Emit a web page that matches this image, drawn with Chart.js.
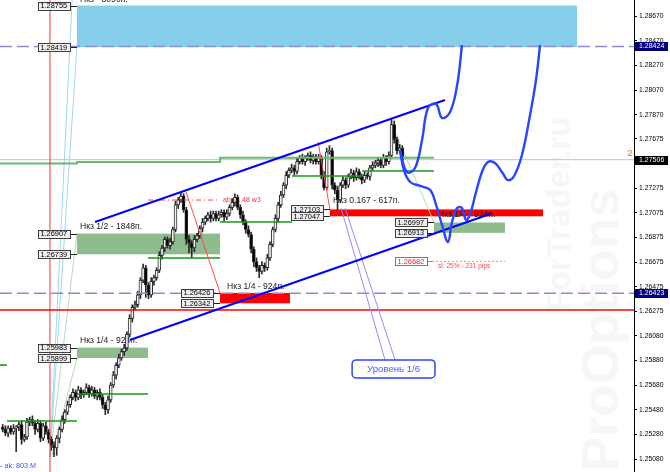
<!DOCTYPE html>
<html><head><meta charset="utf-8">
<script src="https://cdn.jsdelivr.net/npm/chart.js@4"></script>
<style>html,body{margin:0;padding:0;background:#fff;overflow:hidden}</style>
</head><body>
<canvas id="c" width="670" height="472"></canvas>
<script>
// ---------- data ----------
const PIP = 0.0001;
const BAR_MIN = -1, BAR_MAX = 233.8;
const Y_MIN = 1.24975, Y_MAX = 1.28800;
const yTicks = [1.28670,1.28470,1.28270,1.28070,1.27870,1.27675,1.27475,1.27275,1.27075,1.26875,1.26675,1.26475,1.26275,1.26080,1.25880,1.25680,1.25480,1.25280,1.25080];

const firstOpen = 1.2534;
const closes = [
1.2532,1.2529,1.2533,1.2530,1.2533,1.2534,1.2536,1.2524,1.2526,1.2538,
1.2540,1.2537,1.2532,1.2537,1.2525,1.2535,1.2530,1.2524,1.2519,1.2517,
1.2525,1.2532,1.2540,1.2546,1.2552,1.2558,1.2562,1.2558,1.2564,1.2560,
1.2562,1.2566,1.2561,1.2564,1.2559,1.2562,1.2558,1.2552,1.2548,1.2556,
1.2568,1.2576,1.2584,1.2590,1.2595,1.2598,1.2609,1.2622,1.2631,1.2633,
1.2641,1.2653,1.2663,1.2649,1.2641,1.2652,1.2655,1.2661,1.2673,1.2679,
1.2686,1.2681,1.2684,1.2694,1.2714,1.2718,1.2721,1.2710,1.2686,1.2683,
1.2679,1.2686,1.2689,1.2695,1.2700,1.2703,1.2706,1.2703,1.2707,1.2703,
1.2706,1.2708,1.2704,1.2707,1.2712,1.2716,1.2720,1.2712,1.2706,1.2700,
1.2694,1.2690,1.2678,1.2668,1.2663,1.2660,1.2665,1.2663,1.2671,1.2682,
1.2694,1.2703,1.2714,1.2722,1.2730,1.2738,1.2742,1.2744,1.2741,1.2749,
1.2752,1.2749,1.2752,1.2754,1.2750,1.2753,1.2749,1.2752,1.2738,1.2728,
1.2757,1.2758,1.2730,1.2726,1.2718,1.2730,1.2734,1.2730,1.2737,1.2740,
1.2736,1.2741,1.2737,1.2734,1.2738,1.2737,1.2744,1.2746,1.2748,1.2750,
1.2746,1.2752,1.2749,1.2754,1.2779,1.2767,1.2758,1.2760,1.27506];
// wick lengths in pips
const wickUp = [
2,3,2,2,3,1,2,3,2,3, 2,3,2,3,2,2,3,2,2,3, 2,2,3,2,3,2,3,2,3,2, 2,3,2,3,2,2,3,2,2,3,
2,3,2,3,2,3,2,3,2,3, 3,2,3,2,2,3,2,2,3,2, 2,2,3,2,3,2,3,2,2,3, 2,3,2,2,3,2,2,3,2,2,
3,2,2,3,2,3,3,2,2,3, 2,3,2,2,3,2,3,2,3,2, 2,3,2,3,2,3,2,3,2,3, 2,3,2,2,3,2,2,3,2,3,
3,4,2,2,3,2,3,2,2,3, 2,3,2,2,3,2,2,3,2,2, 2,3,2,3,4,3,2,3,2];
const wickDn = [
2,2,3,2,2,19,3,4,2,2, 3,2,4,2,3,2,2,3,4,7, 6,4,2,3,2,2,2,3,2,3, 2,2,3,2,2,3,2,3,4,3,
2,2,3,2,2,3,2,2,3,2, 2,3,2,10,3,2,3,2,2,3, 3,2,3,2,2,3,2,2,4,8, 8,3,2,2,3,2,2,3,2,2,
2,2,3,2,2,2,3,2,3,2, 3,2,3,4,3,5,2,3,2,2, 2,2,3,2,2,3,2,2,3,2, 2,2,3,2,2,3,2,2,3,2,
2,2,3,3,8,2,2,3,2,2, 3,2,2,3,2,2,3,2,2,3, 2,2,3,2,2,3,3,2,3];

// horizontal / vertical levels
const levelGray = 1.27506;
const levelDashed = [1.28424, 1.26423];
const levelRed = 1.26288;
const vLineBar = 17.5;

// zones: [bar from, bar to, price top, price bottom, kind]
const zones = [
  [27.5, 212.7, 1.28755, 1.28419, 'sky'],
  [27.5, 80.5, 1.26907, 1.26739, 'green'],
  [27.5, 53.8, 1.25983, 1.25899, 'green'],
  [80.5, 106.4, 1.26426, 1.26342, 'red'],
  [121.2, 200.1, 1.27103, 1.27047, 'red'],
  [159.7, 186.0, 1.26997, 1.26913, 'green']
];
// zone texts: [text, bar, price]
const zoneLabels = [
  ['Нкз - 3090п.', 28.6, 1.28800],
  ['Нкз 1/2 - 1848п.', 28.6, 1.26960],
  ['Нкз 1/4 - 924п.', 28.6, 1.26037],
  ['Нкз 1/4 - 924п.', 83.1, 1.26474],
  ['Нкз 0.167 - 617п.', 122.3, 1.27171],
  ['Нкз 1/4 - 924п.', 161.2, 1.27058]
];
// price labels: [price, bar of the zone edge they point to]
const priceBoxes = [
  [1.28755, 27.5],[1.28419, 27.5],[1.26907, 27.5],[1.26739, 27.5],[1.25983, 27.5],[1.25899, 27.5],
  [1.26426, 80.5],[1.26342, 80.5],[1.27103, 121.2],[1.27047, 121.2],[1.26997, 159.7],[1.26913, 159.7]
];
const slBox = [1.26682, 159.0];
const slLine = [[159.0, 1.26682],[186.0, 1.26682]];
const slText = ['sl: 25% - 231 pips', 161.2, 1.26644];
const abcLine = [[53.8, 1.27179],[80.5, 1.27179]];
const abcText = ['abc 1.48 w3', 81.6, 1.27179];

// axis price tags: [price, kind]
const axisTags = [[1.28424,'navy'],[1.27506,'black'],[1.26423,'navy']];

// channel and forecast
const channelUpper = [[34.2,1.27001],[163.8,1.27990]];
const channelLower = [[47.1,1.26045],[180.5,1.27066]];
const forecastUp = [[147.1,1.27584],[149.7,1.27406],[152.7,1.27439],[155.3,1.27665],[157.5,1.27925],[160.5,1.27957],[162.7,1.27844],[165.7,1.27892],[168.3,1.28111],[170.1,1.28435]];
const forecastDown = [[147.1,1.27584],[148.6,1.27422],[150.9,1.27325],[154.6,1.27293],[158.3,1.27260],[160.5,1.27139],[162.7,1.26977],[164.9,1.26839],[166.4,1.27001],[168.3,1.27114],[170.1,1.27114],[171.6,1.27017],[173.1,1.27066],[175.3,1.27244],[177.5,1.27406],[179.7,1.27487],[182.3,1.27479],[184.9,1.27406],[187.1,1.27341],[189.4,1.27374],[192.3,1.27544],[195.3,1.27868],[197.5,1.28152],[199.0,1.28435]];

// green levels
const greenLevels = [
  [[-1,1.25842],[1.6,1.25842]],
  [[1.6,1.25388],[27.5,1.25388]],
  [[27.5,1.25607],[53.8,1.25607]],
  [[53.8,1.26709],[80.5,1.26709]],
  [[80.5,1.27001],[107.1,1.27001]],
  [[107.1,1.27374],[133.1,1.27374]],
  [[133.1,1.27414],[159.7,1.27414]]
];
const stairLevel = [[-1,1.27475],[27.5,1.27487],[80.5,1.27522],[159.7,1.27522]];

// thin guide lines
const guideBlue = [ [[17.5,1.25097],[27.5,1.28424]], [[17.5,1.25097],[25.7,1.28800]] ];
const guideGreen = [ [[17.5,1.25097],[27.5,1.26907]], [[18.3,1.25113],[27.5,1.25899]], [[144.2,1.27787],[159.7,1.27001]] ];
const guideRed = [ [[67.9,1.27244],[80.5,1.26426]], [[116.8,1.27649],[121.2,1.27103]] ];
const calloutLines = [ [[125.3,1.27114],[141.6,1.25883]], [[126.8,1.27114],[145.3,1.25883]] ];
const callout = {text:'Уровень 1/6', x1:129.4, x2:160.1, top:1.25883, bottom:1.25737};
const footText = ['- ak: 803 M', -1, 1.25024];
const markText = ['2', 231.4, 1.27552];

// ---------- build ----------
const opens = closes.map((c,i)=> i===0 ? firstOpen : closes[i-1]);
const highs = closes.map((c,i)=> Math.max(opens[i],c) + wickUp[i]*PIP);
const lows  = closes.map((c,i)=> Math.min(opens[i],c) - wickDn[i]*PIP);

const FONT = '"Liberation Sans", Arial, sans-serif';
const KIND = {sky:'#87ceeb', green:'#8fbc8f', red:'#ff0000', navy:'#000080', black:'#000000'};

function lineDs(pts, color, width, extra){
  return Object.assign({type:'line', data: pts.map(p=>({x:p[0], y:p[1]})), borderColor:color, borderWidth:width,
    pointRadius:0, fill:false, tension:0, order:20}, extra||{});
}

const datasets = [];
datasets.push({type:'bar', data: closes.map((c,i)=>({x:i, y:[lows[i], highs[i]]})), backgroundColor:'#2a2a2a',
  barThickness:1, grouped:false, order:31});
datasets.push({type:'bar', data: closes.map((c,i)=>({x:i, y:[opens[i], c]})),
  backgroundColor: closes.map((c,i)=> c>=opens[i] ? '#f4f4f4' : '#000000'),
  borderColor:'#2a2a2a', borderWidth:1, borderSkipped:false, barThickness:3, minBarLength:1, grouped:false, order:30});

datasets.push(lineDs([[BAR_MIN,levelGray],[BAR_MAX,levelGray]], '#c4c4c4', 1, {order:40}));
levelDashed.forEach(v=>datasets.push(lineDs([[BAR_MIN,v],[BAR_MAX,v]], '#8c8cd0', 1.5, {borderDash:[12,5], order:22})));
datasets.push(lineDs([[BAR_MIN,levelRed],[BAR_MAX,levelRed]], '#ff0000', 1.5, {order:22}));
datasets.push(lineDs([[vLineBar,Y_MIN],[vLineBar,Y_MAX]], '#ff3030', 1, {order:22}));
guideBlue.forEach(s=>datasets.push(lineDs(s, '#9fd6ee', 1, {order:35})));
guideGreen.forEach(s=>datasets.push(lineDs(s, '#b4dcb4', 1, {order:35})));
guideRed.forEach(s=>datasets.push(lineDs(s, '#ff4a4a', 1, {order:21})));
datasets.push(lineDs(abcLine, '#ff4040', 1, {borderDash:[5,3,1,3], order:21}));
datasets.push(lineDs(slLine, '#ff8080', 1, {borderDash:[2,2], order:21}));
calloutLines.forEach(s=>datasets.push(lineDs(s, '#8c8cff', 1, {order:21})));
datasets.push(lineDs(stairLevel, '#6cb86c', 2, {stepped:true, order:24}));
greenLevels.forEach(s=>datasets.push(lineDs(s, '#159a15', 1.6, {order:23})));
datasets.push(lineDs(channelUpper, '#0000ff', 2, {order:10}));
datasets.push(lineDs(channelLower, '#0000ff', 2, {order:10}));
datasets.push(lineDs(forecastUp, '#2846ff', 2.4, {tension:0.4, order:5}));
datasets.push(lineDs(forecastDown, '#2846ff', 2.4, {tension:0.4, order:5}));

function px(chart, bar){ return chart.scales.x.getPixelForValue(bar); }
function py(chart, price){ return chart.scales.y.getPixelForValue(price); }

function priceBox(ctx, x, y, text, border, textColor){
  const w = 32, h = 8;
  ctx.fillStyle = '#eeeeee';
  ctx.fillRect(x, y-h/2, w, h);
  ctx.strokeStyle = border; ctx.lineWidth = 1;
  ctx.strokeRect(Math.round(x)+0.5, Math.round(y-h/2)+0.5, w, h);
  ctx.fillStyle = textColor;
  ctx.font = '7.4px ' + FONT; ctx.textBaseline = 'middle'; ctx.textAlign = 'left';
  ctx.fillText(text, x+2.5, y+0.5);
}

const drawPlugin = {
  id:'drawings',
  beforeDatasetsDraw(chart){
    const ctx = chart.ctx, a = chart.chartArea;
    ctx.save();
    ctx.beginPath(); ctx.rect(a.left, a.top, a.right-a.left, a.bottom-a.top); ctx.clip();
    // watermark
    ctx.fillStyle = 'rgba(0,0,0,0.035)';
    ctx.textAlign = 'center'; ctx.textBaseline = 'middle';
    ctx.save(); ctx.translate(604, 330); ctx.rotate(-Math.PI/2);
    ctx.font = 'bold 52px ' + FONT; ctx.fillText('ProOptions', 0, 0); ctx.restore();
    ctx.save(); ctx.translate(561, 214); ctx.rotate(-Math.PI/2);
    ctx.font = 'bold 33px ' + FONT; ctx.fillText('ForTrader.ru', 0, 0); ctx.restore();
    // zones
    zones.forEach(z=>{
      const x1 = px(chart,z[0]), x2 = px(chart,z[1]), y1 = py(chart,z[2]), y2 = py(chart,z[3]);
      ctx.fillStyle = KIND[z[4]];
      ctx.fillRect(x1, y1, x2-x1, y2-y1);
    });
    // zone labels
    ctx.font = '8.6px ' + FONT; ctx.textAlign = 'left'; ctx.textBaseline = 'middle';
    ctx.fillStyle = '#1a1a1a';
    zoneLabels.forEach(l=> ctx.fillText(l[0], px(chart,l[1]), py(chart,l[2])));
    ctx.fillStyle = '#ff4a4a'; ctx.font = '6.6px ' + FONT;
    ctx.fillText(slText[0], px(chart,slText[1]), py(chart,slText[2]));
    ctx.fillStyle = '#ff3030'; ctx.font = '7px ' + FONT;
    ctx.fillText(abcText[0], px(chart,abcText[1]), py(chart,abcText[2]));
    ctx.restore();
  },
  afterDatasetsDraw(chart){
    const ctx = chart.ctx, a = chart.chartArea;
    ctx.save();
    // price boxes with connectors
    priceBoxes.forEach(b=>{
      const xe = px(chart,b[1]), y = py(chart,b[0]);
      const xr = xe - 7, xl = xr - 32;
      ctx.strokeStyle = '#202020'; ctx.lineWidth = 1;
      ctx.beginPath(); ctx.moveTo(xr, Math.round(y)+0.5); ctx.lineTo(xe, Math.round(y)+0.5); ctx.stroke();
      priceBox(ctx, xl, y, b[0].toFixed(5), '#404040', '#000000');
    });
    {
      const xe = px(chart,slBox[1]), y = py(chart,slBox[0]);
      const xr = xe - 5, xl = xr - 32;
      ctx.strokeStyle = '#ff5050';
      ctx.beginPath(); ctx.moveTo(xr, Math.round(y)+0.5); ctx.lineTo(xe, Math.round(y)+0.5); ctx.stroke();
      ctx.fillStyle = '#ffffff'; ctx.fillRect(xl, y-4, 32, 8);
      ctx.strokeStyle = '#ff4040'; ctx.strokeRect(Math.round(xl)+0.5, Math.round(y-4)+0.5, 32, 8);
      ctx.fillStyle = '#ff2020'; ctx.font = '7.4px ' + FONT; ctx.textBaseline='middle'; ctx.textAlign='left';
      ctx.fillText(slBox[0].toFixed(5), xl+2.5, y+0.5);
    }
    // callout
    {
      const x1 = px(chart,callout.x1), x2 = px(chart,callout.x2), y1 = py(chart,callout.top), y2 = py(chart,callout.bottom);
      ctx.beginPath(); ctx.roundRect(x1, y1, x2-x1, y2-y1, 4);
      ctx.fillStyle = '#ffffff'; ctx.fill();
      ctx.strokeStyle = '#3040ff'; ctx.lineWidth = 1.5; ctx.stroke();
      ctx.fillStyle = '#4a5aff'; ctx.font = '9.6px ' + FONT; ctx.textAlign = 'center'; ctx.textBaseline = 'middle';
      ctx.fillText(callout.text, (x1+x2)/2, (y1+y2)/2+0.5);
    }
    // footer and marker
    ctx.textAlign = 'left'; ctx.textBaseline = 'middle';
    ctx.fillStyle = '#3a55ff'; ctx.font = '7.2px ' + FONT;
    ctx.fillText(footText[0], px(chart,footText[1]), py(chart,footText[2]));
    ctx.fillStyle = '#ff5a1a'; ctx.font = '9px ' + FONT;
    ctx.fillText(markText[0], px(chart,markText[1]), py(chart,markText[2]));
    // axis tags
    axisTags.forEach(t=>{
      const y = py(chart,t[0]);
      ctx.fillStyle = KIND[t[1]];
      ctx.fillRect(a.right+1, Math.round(y)-4, 33, 9);
      ctx.fillStyle = '#ffffff'; ctx.font = '7px ' + FONT; ctx.textAlign = 'left'; ctx.textBaseline = 'middle';
      ctx.fillText(t[0].toFixed(5), a.right+5, Math.round(y)+0.5);
    });
    ctx.restore();
  }
};

new Chart(document.getElementById('c'), {
  type:'bar',
  data:{ datasets },
  options:{
    responsive:false, animation:false, devicePixelRatio:1, events:[],
    layout:{padding:0},
    plugins:{legend:{display:false}, tooltip:{enabled:false}},
    scales:{
      x:{type:'linear', min:BAR_MIN, max:BAR_MAX, offset:false, display:false, grid:{display:false}},
      y:{type:'linear', position:'right', min:Y_MIN, max:Y_MAX, beginAtZero:false,
         afterBuildTicks: ax => { ax.ticks = yTicks.map(v=>({value:v})); },
         afterFit: ax => { ax.width = 36; ax.paddingTop = 0; ax.paddingBottom = 0; },
         ticks:{ autoSkip:false, padding:2, color:'#000', font:{family:FONT, size:6.8}, callback: v => Number(v).toFixed(5) },
         grid:{ drawOnChartArea:false, drawTicks:true, tickLength:3, color:'#000' },
         border:{ display:true, color:'#000', width:1 }
      }
    }
  },
  plugins:[drawPlugin]
});
</script>
</body></html>
